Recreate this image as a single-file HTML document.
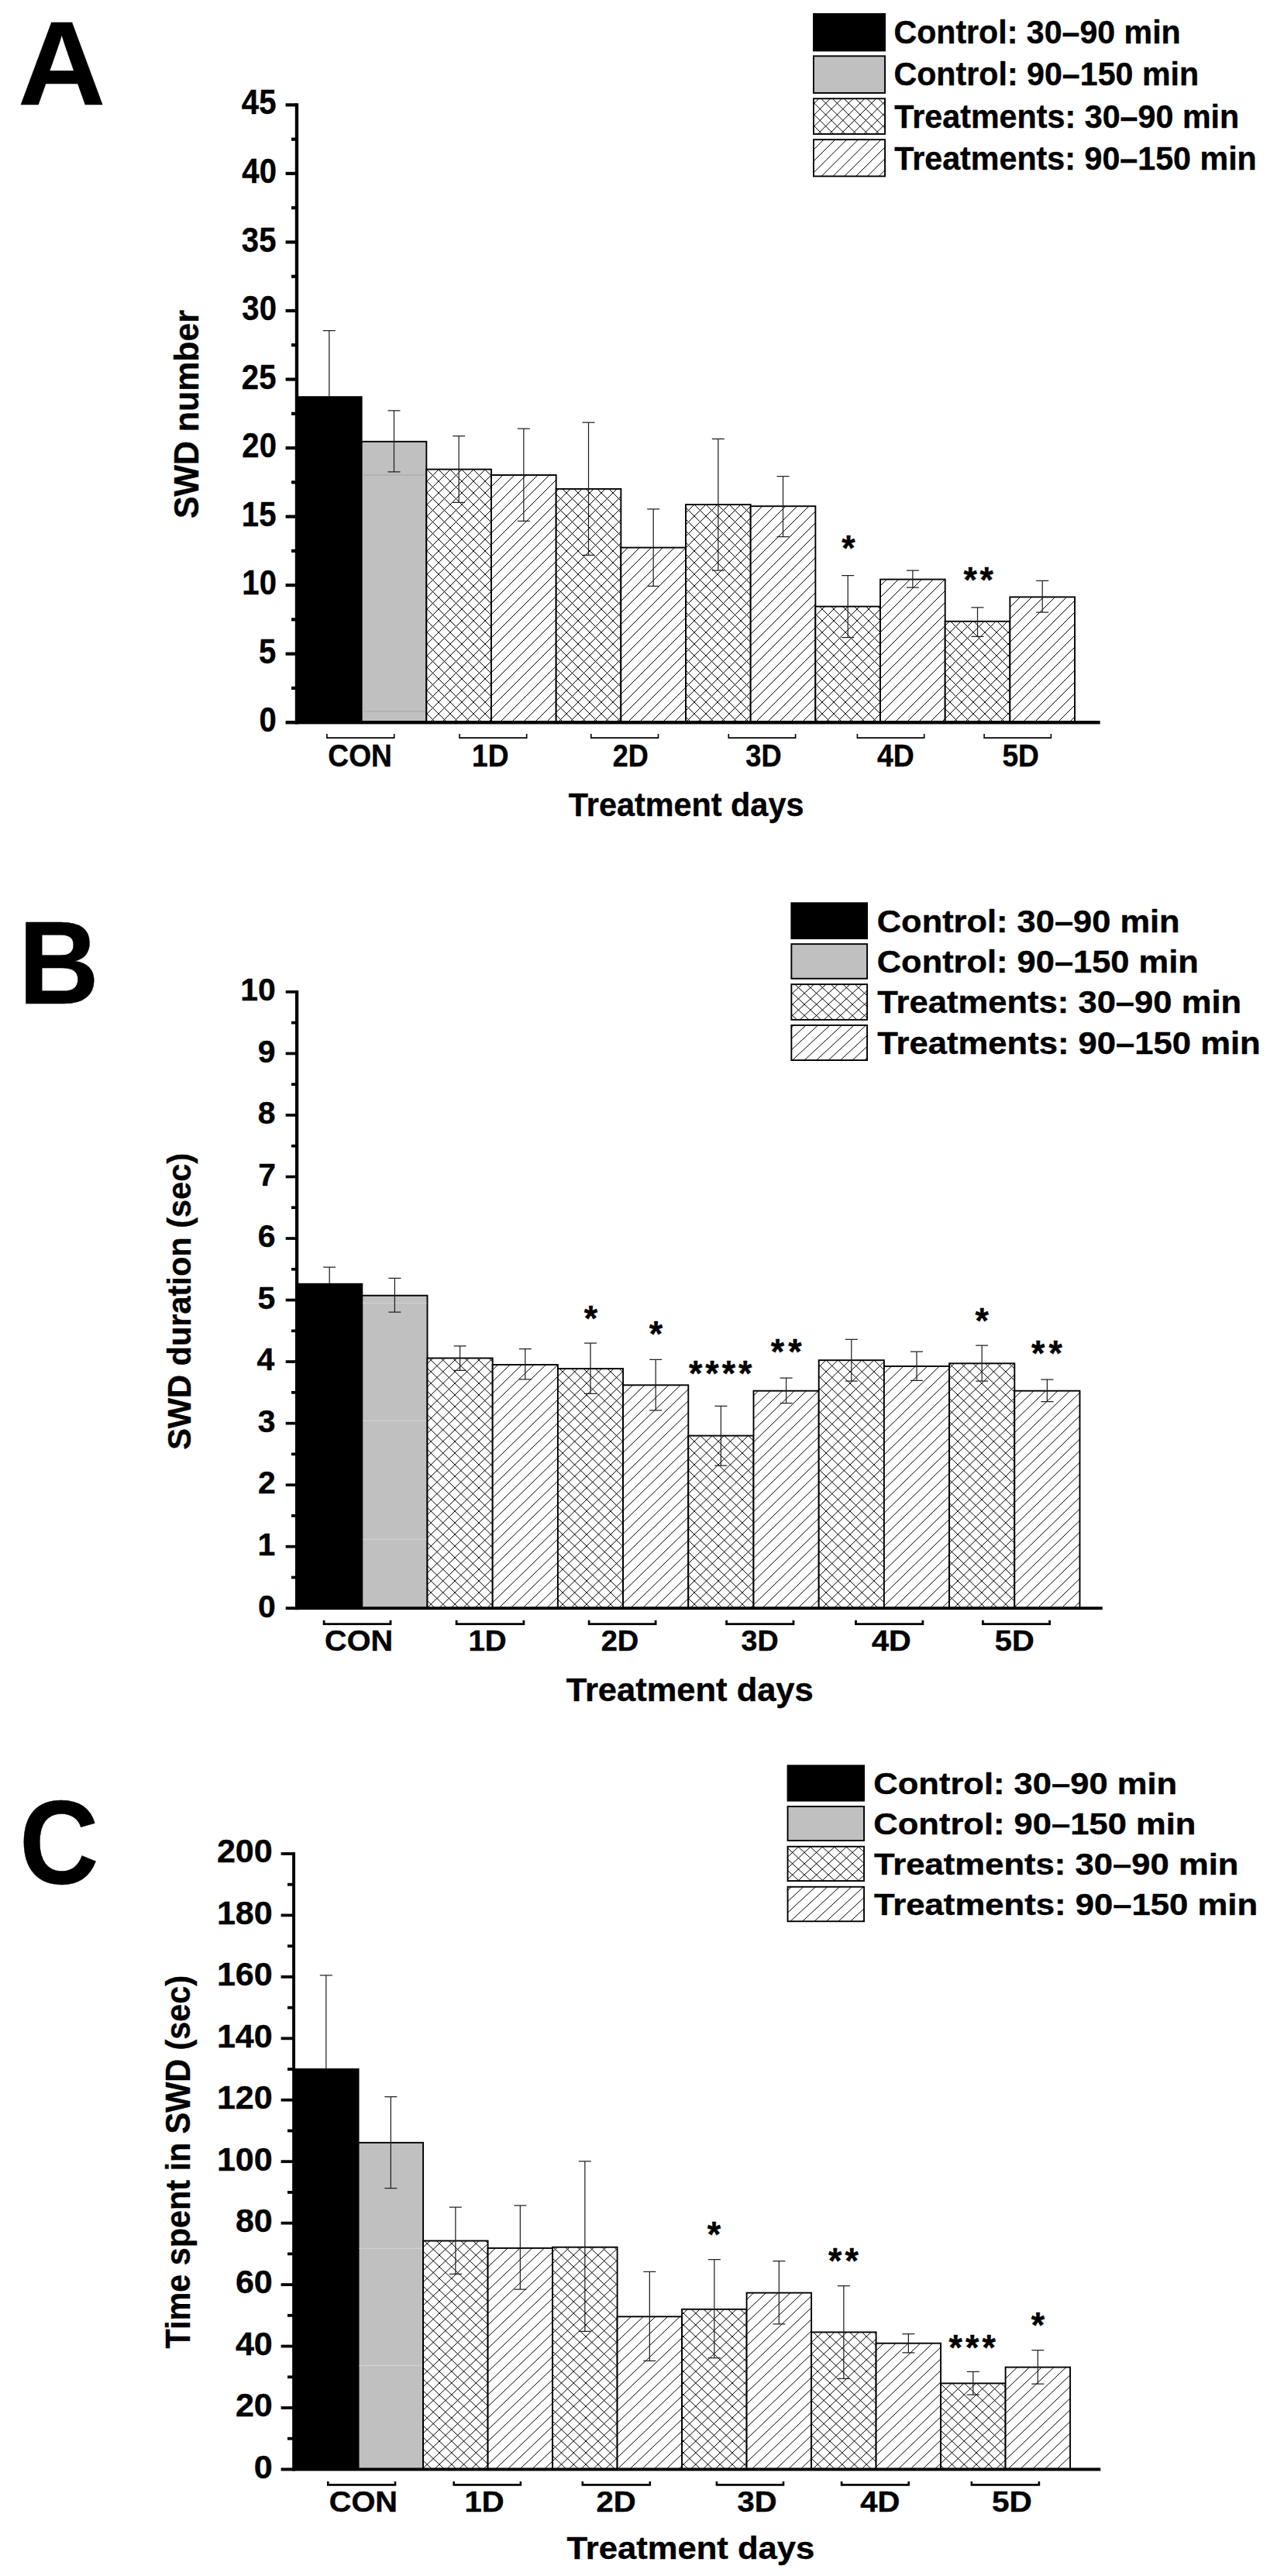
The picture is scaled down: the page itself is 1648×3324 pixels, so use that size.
<!DOCTYPE html>
<html lang="en"><head><meta charset="utf-8"><title>SWD figure</title>
<style>html,body{margin:0;padding:0;background:#fff;overflow:hidden}svg{display:block}text{font-family:"Liberation Sans",sans-serif;font-weight:bold;fill:#000;stroke:#000;stroke-width:0.4px;stroke-linejoin:round}</style>
</head><body>
<svg width="1648" height="3324" viewBox="0 0 1648 3324">
<rect width="1648" height="3324" fill="#fff"/>
<rect x="383" y="511.2" width="84.62" height="421" fill="#000"/>
<rect x="466.67" y="569.8" width="83.67" height="362.4" fill="#c0c0c0" stroke="#000" stroke-width="1.9"/>
<line x1="467.62" x2="549.39" y1="613" y2="613" stroke="#a4a4a4" stroke-width="1"/>
<line x1="467.62" x2="549.39" y1="918" y2="918" stroke="#a8a8a8" stroke-width="1"/>
<rect x="550.34" y="605.6" width="83.67" height="326.6" fill="#fff"/>
<clipPath id="c1"><rect x="550.34" y="605.6" width="83.67" height="326.6"/></clipPath>
<path clip-path="url(#c1)" d="M224.8 932.2L551.4 605.6M239.8 932.2L566.4 605.6M254.8 932.2L581.4 605.6M269.8 932.2L596.4 605.6M284.8 932.2L611.4 605.6M299.8 932.2L626.4 605.6M314.8 932.2L641.4 605.6M329.8 932.2L656.4 605.6M344.8 932.2L671.4 605.6M359.8 932.2L686.4 605.6M374.8 932.2L701.4 605.6M389.8 932.2L716.4 605.6M404.8 932.2L731.4 605.6M419.8 932.2L746.4 605.6M434.8 932.2L761.4 605.6M449.8 932.2L776.4 605.6M464.8 932.2L791.4 605.6M479.8 932.2L806.4 605.6M494.8 932.2L821.4 605.6M509.8 932.2L836.4 605.6M524.8 932.2L851.4 605.6M539.8 932.2L866.4 605.6M554.8 932.2L881.4 605.6M569.8 932.2L896.4 605.6M584.8 932.2L911.4 605.6M599.8 932.2L926.4 605.6M614.8 932.2L941.4 605.6M629.8 932.2L956.4 605.6M235.6 605.6L562.2 932.2M250.6 605.6L577.2 932.2M265.6 605.6L592.2 932.2M280.6 605.6L607.2 932.2M295.6 605.6L622.2 932.2M310.6 605.6L637.2 932.2M325.6 605.6L652.2 932.2M340.6 605.6L667.2 932.2M355.6 605.6L682.2 932.2M370.6 605.6L697.2 932.2M385.6 605.6L712.2 932.2M400.6 605.6L727.2 932.2M415.6 605.6L742.2 932.2M430.6 605.6L757.2 932.2M445.6 605.6L772.2 932.2M460.6 605.6L787.2 932.2M475.6 605.6L802.2 932.2M490.6 605.6L817.2 932.2M505.6 605.6L832.2 932.2M520.6 605.6L847.2 932.2M535.6 605.6L862.2 932.2M550.6 605.6L877.2 932.2M565.6 605.6L892.2 932.2M580.6 605.6L907.2 932.2M595.6 605.6L922.2 932.2M610.6 605.6L937.2 932.2M625.6 605.6L952.2 932.2" stroke="#000" stroke-width="1.0" fill="none"/>
<rect x="550.34" y="605.6" width="83.67" height="326.6" fill="none" stroke="#000" stroke-width="1.9"/>
<rect x="634.01" y="613" width="83.67" height="319.2" fill="#fff"/>
<clipPath id="c2"><rect x="634.01" y="613" width="83.67" height="319.2"/></clipPath>
<path clip-path="url(#c2)" d="M329.8 932.2L649 613M344.8 932.2L664 613M359.8 932.2L679 613M374.8 932.2L694 613M389.8 932.2L709 613M404.8 932.2L724 613M419.8 932.2L739 613M434.8 932.2L754 613M449.8 932.2L769 613M464.8 932.2L784 613M479.8 932.2L799 613M494.8 932.2L814 613M509.8 932.2L829 613M524.8 932.2L844 613M539.8 932.2L859 613M554.8 932.2L874 613M569.8 932.2L889 613M584.8 932.2L904 613M599.8 932.2L919 613M614.8 932.2L934 613M629.8 932.2L949 613M644.8 932.2L964 613M659.8 932.2L979 613M674.8 932.2L994 613M689.8 932.2L1009 613M704.8 932.2L1024 613" stroke="#000" stroke-width="1.0" fill="none"/>
<rect x="634.01" y="613" width="83.67" height="319.2" fill="none" stroke="#000" stroke-width="1.9"/>
<rect x="717.68" y="630.9" width="83.67" height="301.3" fill="#fff"/>
<clipPath id="c3"><rect x="717.68" y="630.9" width="83.67" height="301.3"/></clipPath>
<path clip-path="url(#c3)" d="M419.8 932.2L721.1 630.9M434.8 932.2L736.1 630.9M449.8 932.2L751.1 630.9M464.8 932.2L766.1 630.9M479.8 932.2L781.1 630.9M494.8 932.2L796.1 630.9M509.8 932.2L811.1 630.9M524.8 932.2L826.1 630.9M539.8 932.2L841.1 630.9M554.8 932.2L856.1 630.9M569.8 932.2L871.1 630.9M584.8 932.2L886.1 630.9M599.8 932.2L901.1 630.9M614.8 932.2L916.1 630.9M629.8 932.2L931.1 630.9M644.8 932.2L946.1 630.9M659.8 932.2L961.1 630.9M674.8 932.2L976.1 630.9M689.8 932.2L991.1 630.9M704.8 932.2L1006.1 630.9M719.8 932.2L1021.1 630.9M734.8 932.2L1036.1 630.9M749.8 932.2L1051.1 630.9M764.8 932.2L1066.1 630.9M779.8 932.2L1081.1 630.9M794.8 932.2L1096.1 630.9M425.9 630.9L727.2 932.2M440.9 630.9L742.2 932.2M455.9 630.9L757.2 932.2M470.9 630.9L772.2 932.2M485.9 630.9L787.2 932.2M500.9 630.9L802.2 932.2M515.9 630.9L817.2 932.2M530.9 630.9L832.2 932.2M545.9 630.9L847.2 932.2M560.9 630.9L862.2 932.2M575.9 630.9L877.2 932.2M590.9 630.9L892.2 932.2M605.9 630.9L907.2 932.2M620.9 630.9L922.2 932.2M635.9 630.9L937.2 932.2M650.9 630.9L952.2 932.2M665.9 630.9L967.2 932.2M680.9 630.9L982.2 932.2M695.9 630.9L997.2 932.2M710.9 630.9L1012.2 932.2M725.9 630.9L1027.2 932.2M740.9 630.9L1042.2 932.2M755.9 630.9L1057.2 932.2M770.9 630.9L1072.2 932.2M785.9 630.9L1087.2 932.2M800.9 630.9L1102.2 932.2" stroke="#000" stroke-width="1.0" fill="none"/>
<rect x="717.68" y="630.9" width="83.67" height="301.3" fill="none" stroke="#000" stroke-width="1.9"/>
<rect x="801.35" y="706.6" width="83.67" height="225.6" fill="#fff"/>
<clipPath id="c4"><rect x="801.35" y="706.6" width="83.67" height="225.6"/></clipPath>
<path clip-path="url(#c4)" d="M584.8 932.2L810.4 706.6M599.8 932.2L825.4 706.6M614.8 932.2L840.4 706.6M629.8 932.2L855.4 706.6M644.8 932.2L870.4 706.6M659.8 932.2L885.4 706.6M674.8 932.2L900.4 706.6M689.8 932.2L915.4 706.6M704.8 932.2L930.4 706.6M719.8 932.2L945.4 706.6M734.8 932.2L960.4 706.6M749.8 932.2L975.4 706.6M764.8 932.2L990.4 706.6M779.8 932.2L1005.4 706.6M794.8 932.2L1020.4 706.6M809.8 932.2L1035.4 706.6M824.8 932.2L1050.4 706.6M839.8 932.2L1065.4 706.6M854.8 932.2L1080.4 706.6M869.8 932.2L1095.4 706.6M884.8 932.2L1110.4 706.6" stroke="#000" stroke-width="1.0" fill="none"/>
<rect x="801.35" y="706.6" width="83.67" height="225.6" fill="none" stroke="#000" stroke-width="1.9"/>
<rect x="885.02" y="651.1" width="83.67" height="281.1" fill="#fff"/>
<clipPath id="c5"><rect x="885.02" y="651.1" width="83.67" height="281.1"/></clipPath>
<path clip-path="url(#c5)" d="M614.8 932.2L895.9 651.1M629.8 932.2L910.9 651.1M644.8 932.2L925.9 651.1M659.8 932.2L940.9 651.1M674.8 932.2L955.9 651.1M689.8 932.2L970.9 651.1M704.8 932.2L985.9 651.1M719.8 932.2L1000.9 651.1M734.8 932.2L1015.9 651.1M749.8 932.2L1030.9 651.1M764.8 932.2L1045.9 651.1M779.8 932.2L1060.9 651.1M794.8 932.2L1075.9 651.1M809.8 932.2L1090.9 651.1M824.8 932.2L1105.9 651.1M839.8 932.2L1120.9 651.1M854.8 932.2L1135.9 651.1M869.8 932.2L1150.9 651.1M884.8 932.2L1165.9 651.1M899.8 932.2L1180.9 651.1M914.8 932.2L1195.9 651.1M929.8 932.2L1210.9 651.1M944.8 932.2L1225.9 651.1M959.8 932.2L1240.9 651.1M611.1 651.1L892.2 932.2M626.1 651.1L907.2 932.2M641.1 651.1L922.2 932.2M656.1 651.1L937.2 932.2M671.1 651.1L952.2 932.2M686.1 651.1L967.2 932.2M701.1 651.1L982.2 932.2M716.1 651.1L997.2 932.2M731.1 651.1L1012.2 932.2M746.1 651.1L1027.2 932.2M761.1 651.1L1042.2 932.2M776.1 651.1L1057.2 932.2M791.1 651.1L1072.2 932.2M806.1 651.1L1087.2 932.2M821.1 651.1L1102.2 932.2M836.1 651.1L1117.2 932.2M851.1 651.1L1132.2 932.2M866.1 651.1L1147.2 932.2M881.1 651.1L1162.2 932.2M896.1 651.1L1177.2 932.2M911.1 651.1L1192.2 932.2M926.1 651.1L1207.2 932.2M941.1 651.1L1222.2 932.2M956.1 651.1L1237.2 932.2" stroke="#000" stroke-width="1.0" fill="none"/>
<rect x="885.02" y="651.1" width="83.67" height="281.1" fill="none" stroke="#000" stroke-width="1.9"/>
<rect x="968.69" y="653.2" width="83.67" height="279" fill="#fff"/>
<clipPath id="c6"><rect x="968.69" y="653.2" width="83.67" height="279"/></clipPath>
<path clip-path="url(#c6)" d="M689.8 932.2L968.8 653.2M704.8 932.2L983.8 653.2M719.8 932.2L998.8 653.2M734.8 932.2L1013.8 653.2M749.8 932.2L1028.8 653.2M764.8 932.2L1043.8 653.2M779.8 932.2L1058.8 653.2M794.8 932.2L1073.8 653.2M809.8 932.2L1088.8 653.2M824.8 932.2L1103.8 653.2M839.8 932.2L1118.8 653.2M854.8 932.2L1133.8 653.2M869.8 932.2L1148.8 653.2M884.8 932.2L1163.8 653.2M899.8 932.2L1178.8 653.2M914.8 932.2L1193.8 653.2M929.8 932.2L1208.8 653.2M944.8 932.2L1223.8 653.2M959.8 932.2L1238.8 653.2M974.8 932.2L1253.8 653.2M989.8 932.2L1268.8 653.2M1004.8 932.2L1283.8 653.2M1019.8 932.2L1298.8 653.2M1034.8 932.2L1313.8 653.2M1049.8 932.2L1328.8 653.2" stroke="#000" stroke-width="1.0" fill="none"/>
<rect x="968.69" y="653.2" width="83.67" height="279" fill="none" stroke="#000" stroke-width="1.9"/>
<rect x="1052.36" y="782.6" width="83.67" height="149.6" fill="#fff"/>
<clipPath id="c7"><rect x="1052.36" y="782.6" width="83.67" height="149.6"/></clipPath>
<path clip-path="url(#c7)" d="M914.8 932.2L1064.4 782.6M929.8 932.2L1079.4 782.6M944.8 932.2L1094.4 782.6M959.8 932.2L1109.4 782.6M974.8 932.2L1124.4 782.6M989.8 932.2L1139.4 782.6M1004.8 932.2L1154.4 782.6M1019.8 932.2L1169.4 782.6M1034.8 932.2L1184.4 782.6M1049.8 932.2L1199.4 782.6M1064.8 932.2L1214.4 782.6M1079.8 932.2L1229.4 782.6M1094.8 932.2L1244.4 782.6M1109.8 932.2L1259.4 782.6M1124.8 932.2L1274.4 782.6M907.6 782.6L1057.2 932.2M922.6 782.6L1072.2 932.2M937.6 782.6L1087.2 932.2M952.6 782.6L1102.2 932.2M967.6 782.6L1117.2 932.2M982.6 782.6L1132.2 932.2M997.6 782.6L1147.2 932.2M1012.6 782.6L1162.2 932.2M1027.6 782.6L1177.2 932.2M1042.6 782.6L1192.2 932.2M1057.6 782.6L1207.2 932.2M1072.6 782.6L1222.2 932.2M1087.6 782.6L1237.2 932.2M1102.6 782.6L1252.2 932.2M1117.6 782.6L1267.2 932.2M1132.6 782.6L1282.2 932.2" stroke="#000" stroke-width="1.0" fill="none"/>
<rect x="1052.36" y="782.6" width="83.67" height="149.6" fill="none" stroke="#000" stroke-width="1.9"/>
<rect x="1136.03" y="747.6" width="83.67" height="184.6" fill="#fff"/>
<clipPath id="c8"><rect x="1136.03" y="747.6" width="83.67" height="184.6"/></clipPath>
<path clip-path="url(#c8)" d="M959.8 932.2L1144.4 747.6M974.8 932.2L1159.4 747.6M989.8 932.2L1174.4 747.6M1004.8 932.2L1189.4 747.6M1019.8 932.2L1204.4 747.6M1034.8 932.2L1219.4 747.6M1049.8 932.2L1234.4 747.6M1064.8 932.2L1249.4 747.6M1079.8 932.2L1264.4 747.6M1094.8 932.2L1279.4 747.6M1109.8 932.2L1294.4 747.6M1124.8 932.2L1309.4 747.6M1139.8 932.2L1324.4 747.6M1154.8 932.2L1339.4 747.6M1169.8 932.2L1354.4 747.6M1184.8 932.2L1369.4 747.6M1199.8 932.2L1384.4 747.6M1214.8 932.2L1399.4 747.6" stroke="#000" stroke-width="1.0" fill="none"/>
<rect x="1136.03" y="747.6" width="83.67" height="184.6" fill="none" stroke="#000" stroke-width="1.9"/>
<rect x="1219.7" y="801.8" width="83.67" height="130.4" fill="#fff"/>
<clipPath id="c9"><rect x="1219.7" y="801.8" width="83.67" height="130.4"/></clipPath>
<path clip-path="url(#c9)" d="M1094.8 932.2L1225.2 801.8M1109.8 932.2L1240.2 801.8M1124.8 932.2L1255.2 801.8M1139.8 932.2L1270.2 801.8M1154.8 932.2L1285.2 801.8M1169.8 932.2L1300.2 801.8M1184.8 932.2L1315.2 801.8M1199.8 932.2L1330.2 801.8M1214.8 932.2L1345.2 801.8M1229.8 932.2L1360.2 801.8M1244.8 932.2L1375.2 801.8M1259.8 932.2L1390.2 801.8M1274.8 932.2L1405.2 801.8M1289.8 932.2L1420.2 801.8M1091.8 801.8L1222.2 932.2M1106.8 801.8L1237.2 932.2M1121.8 801.8L1252.2 932.2M1136.8 801.8L1267.2 932.2M1151.8 801.8L1282.2 932.2M1166.8 801.8L1297.2 932.2M1181.8 801.8L1312.2 932.2M1196.8 801.8L1327.2 932.2M1211.8 801.8L1342.2 932.2M1226.8 801.8L1357.2 932.2M1241.8 801.8L1372.2 932.2M1256.8 801.8L1387.2 932.2M1271.8 801.8L1402.2 932.2M1286.8 801.8L1417.2 932.2M1301.8 801.8L1432.2 932.2" stroke="#000" stroke-width="1.0" fill="none"/>
<rect x="1219.7" y="801.8" width="83.67" height="130.4" fill="none" stroke="#000" stroke-width="1.9"/>
<rect x="1303.37" y="770.4" width="83.67" height="161.8" fill="#fff"/>
<clipPath id="c10"><rect x="1303.37" y="770.4" width="83.67" height="161.8"/></clipPath>
<path clip-path="url(#c10)" d="M1154.8 932.2L1316.6 770.4M1169.8 932.2L1331.6 770.4M1184.8 932.2L1346.6 770.4M1199.8 932.2L1361.6 770.4M1214.8 932.2L1376.6 770.4M1229.8 932.2L1391.6 770.4M1244.8 932.2L1406.6 770.4M1259.8 932.2L1421.6 770.4M1274.8 932.2L1436.6 770.4M1289.8 932.2L1451.6 770.4M1304.8 932.2L1466.6 770.4M1319.8 932.2L1481.6 770.4M1334.8 932.2L1496.6 770.4M1349.8 932.2L1511.6 770.4M1364.8 932.2L1526.6 770.4M1379.8 932.2L1541.6 770.4" stroke="#000" stroke-width="1.0" fill="none"/>
<rect x="1303.37" y="770.4" width="83.67" height="161.8" fill="none" stroke="#000" stroke-width="1.9"/>
<path d="M424.83 426.5V511.2M416.83 426.5H432.83M508.5 529.9V608.9M500.5 529.9H516.5M500.5 608.9H516.5M592.17 562.5V648.4M584.17 562.5H600.17M584.17 648.4H600.17M675.85 553.1V672.4M667.85 553.1H683.85M667.85 672.4H683.85M759.51 545V716.4M751.51 545H767.51M751.51 716.4H767.51M843.18 656.9V756.3M835.18 656.9H851.18M835.18 756.3H851.18M926.86 566.4V736.2M918.86 566.4H934.86M918.86 736.2H934.86M1010.52 614.5V692.7M1002.52 614.5H1018.52M1002.52 692.7H1018.52M1094.2 742.7V822.5M1086.2 742.7H1102.2M1086.2 822.5H1102.2M1177.87 736.2V758.2M1169.87 736.2H1185.87M1169.87 758.2H1185.87M1261.53 783.9V821.3M1253.53 783.9H1269.53M1253.53 821.3H1269.53M1345.2 749.3V790M1337.2 749.3H1353.2M1337.2 790H1353.2" stroke="#222" stroke-width="1.25" fill="none"/>
<rect x="380.8" y="133.28" width="4.4" height="801.12" fill="#000"/>
<rect x="368.6" y="930" width="1051.1" height="4.4" fill="#000"/>
<text transform="translate(334.59,944.3) scale(0.9180,1)" font-size="43.6">0</text>
<rect x="376" y="885.83" width="7" height="4.2" fill="#000"/>
<rect x="368.6" y="841.57" width="14.4" height="4.2" fill="#000"/>
<text transform="translate(334.09,855.77) scale(0.9180,1)" font-size="43.6">5</text>
<rect x="376" y="797.3" width="7" height="4.2" fill="#000"/>
<rect x="368.6" y="753.03" width="14.4" height="4.2" fill="#000"/>
<text transform="translate(312.37,767.23) scale(0.9180,1)" font-size="43.6">10</text>
<rect x="376" y="708.76" width="7" height="4.2" fill="#000"/>
<rect x="368.6" y="664.5" width="14.4" height="4.2" fill="#000"/>
<text transform="translate(311.87,678.7) scale(0.9180,1)" font-size="43.6">15</text>
<rect x="376" y="620.23" width="7" height="4.2" fill="#000"/>
<rect x="368.6" y="575.96" width="14.4" height="4.2" fill="#000"/>
<text transform="translate(312.37,590.16) scale(0.9180,1)" font-size="43.6">20</text>
<rect x="376" y="531.69" width="7" height="4.2" fill="#000"/>
<rect x="368.6" y="487.43" width="14.4" height="4.2" fill="#000"/>
<text transform="translate(311.87,501.63) scale(0.9180,1)" font-size="43.6">25</text>
<rect x="376" y="443.16" width="7" height="4.2" fill="#000"/>
<rect x="368.6" y="398.89" width="14.4" height="4.2" fill="#000"/>
<text transform="translate(312.37,413.09) scale(0.9180,1)" font-size="43.6">30</text>
<rect x="376" y="354.62" width="7" height="4.2" fill="#000"/>
<rect x="368.6" y="310.36" width="14.4" height="4.2" fill="#000"/>
<text transform="translate(311.87,324.56) scale(0.9180,1)" font-size="43.6">35</text>
<rect x="376" y="266.09" width="7" height="4.2" fill="#000"/>
<rect x="368.6" y="221.82" width="14.4" height="4.2" fill="#000"/>
<text transform="translate(312.37,236.02) scale(0.9180,1)" font-size="43.6">40</text>
<rect x="376" y="177.55" width="7" height="4.2" fill="#000"/>
<rect x="368.6" y="133.28" width="14.4" height="4.2" fill="#000"/>
<text transform="translate(311.87,147.48) scale(0.9180,1)" font-size="43.6">45</text>
<path d="M421.9 947V952.1H508.7V947M593 947V952.1H679.7V947M762.8 947V952.1H849.5V947M940.3 947V952.1H1026.6V947M1106.4 947V952.1H1192.7V947M1270.1 947V952.1H1356.4V947" stroke="#000" stroke-width="1.6" fill="none" stroke-linejoin="miter"/>
<text transform="translate(423.31,988.5) scale(0.9222,1)" font-size="40.3">CON</text>
<text transform="translate(608.98,988.5) scale(0.9227,1)" font-size="40.3">1D</text>
<text transform="translate(790.84,988.5) scale(0.8933,1)" font-size="40.3">2D</text>
<text transform="translate(962.29,988.5) scale(0.8984,1)" font-size="40.3">3D</text>
<text transform="translate(1131.94,988.5) scale(0.9275,1)" font-size="40.3">4D</text>
<text transform="translate(1293.38,988.5) scale(0.9225,1)" font-size="40.3">5D</text>
<text transform="translate(1086.29,723.49) scale(0.9847,1)" font-size="45.37" x="0">*</text>
<text transform="translate(1243.49,764.19) scale(0.9847,1)" font-size="45.37" x="0 21.43">**</text>
<text transform="translate(733.79,1052.5) scale(0.9583,1)" font-size="43.2">Treatment days</text>
<text transform="translate(255.7,668.99) rotate(-90) scale(0.9523,1)" font-size="45">SWD number</text>
<text transform="translate(23.07,134.5) scale(1.0174,1)" font-size="154.33">A</text>
<rect x="1049" y="17" width="94" height="49.4" fill="#000"/>
<rect x="1049.95" y="72.35" width="92.1" height="47.6" fill="#c0c0c0" stroke="#000" stroke-width="1.9"/>
<clipPath id="c11"><rect x="1049.95" y="127.25" width="92.1" height="45.7"/></clipPath>
<path clip-path="url(#c11)" d="M1011.05 172.95L1056.75 127.25M1025.85 172.95L1071.55 127.25M1040.65 172.95L1086.35 127.25M1055.45 172.95L1101.15 127.25M1070.25 172.95L1115.95 127.25M1085.05 172.95L1130.75 127.25M1099.85 172.95L1145.55 127.25M1114.65 172.95L1160.35 127.25M1129.45 172.95L1175.15 127.25M1015.25 127.25L1060.95 172.95M1030.05 127.25L1075.75 172.95M1044.85 127.25L1090.55 172.95M1059.65 127.25L1105.35 172.95M1074.45 127.25L1120.15 172.95M1089.25 127.25L1134.95 172.95M1104.05 127.25L1149.75 172.95M1118.85 127.25L1164.55 172.95M1133.65 127.25L1179.35 172.95" stroke="#000" stroke-width="1.0" fill="none"/>
<rect x="1049.95" y="127.25" width="92.1" height="45.7" fill="none" stroke="#000" stroke-width="1.9"/>
<clipPath id="c12"><rect x="1049.95" y="180.15" width="92.1" height="47.3"/></clipPath>
<path clip-path="url(#c12)" d="M1015.75 227.45L1063.05 180.15M1030.55 227.45L1077.85 180.15M1045.35 227.45L1092.65 180.15M1060.15 227.45L1107.45 180.15M1074.95 227.45L1122.25 180.15M1089.75 227.45L1137.05 180.15M1104.55 227.45L1151.85 180.15M1119.35 227.45L1166.65 180.15M1134.15 227.45L1181.45 180.15" stroke="#000" stroke-width="1.0" fill="none"/>
<rect x="1049.95" y="180.15" width="92.1" height="47.3" fill="none" stroke="#000" stroke-width="1.9"/>
<text transform="translate(1153.45,55.7) scale(0.9724,1)" font-size="42.3">Control: 30–90 min</text>
<text transform="translate(1153.45,110.1) scale(0.9739,1)" font-size="42.3">Control: 90–150 min</text>
<text transform="translate(1154.29,164.5) scale(0.9759,1)" font-size="42.3">Treatments: 30–90 min</text>
<text transform="translate(1154.29,218.8) scale(0.9748,1)" font-size="42.3">Treatments: 90–150 min</text>
<rect x="383.1" y="1655.8" width="85.15" height="419.4" fill="#000"/>
<rect x="467.3" y="1671.7" width="84.2" height="403.5" fill="#c0c0c0" stroke="#000" stroke-width="1.9"/>
<line x1="468.25" x2="550.55" y1="1681.4" y2="1681.4" stroke="#d4d4d4" stroke-width="1"/>
<line x1="468.25" x2="550.55" y1="1833.3" y2="1833.3" stroke="#d4d4d4" stroke-width="1"/>
<line x1="468.25" x2="550.55" y1="1986.4" y2="1986.4" stroke="#d4d4d4" stroke-width="1"/>
<rect x="551.5" y="1752.5" width="84.2" height="322.7" fill="#fff"/>
<clipPath id="c13"><rect x="551.5" y="1752.5" width="84.2" height="322.7"/></clipPath>
<path clip-path="url(#c13)" d="M226.39 2075.2L558.78 1752.5M241.84 2075.2L574.23 1752.5M257.29 2075.2L589.67 1752.5M272.74 2075.2L605.12 1752.5M288.19 2075.2L620.57 1752.5M303.64 2075.2L636.02 1752.5M319.09 2075.2L651.47 1752.5M334.54 2075.2L666.92 1752.5M349.99 2075.2L682.37 1752.5M365.44 2075.2L697.82 1752.5M380.89 2075.2L713.27 1752.5M396.34 2075.2L728.72 1752.5M411.79 2075.2L744.17 1752.5M427.24 2075.2L759.62 1752.5M442.69 2075.2L775.07 1752.5M458.14 2075.2L790.52 1752.5M473.59 2075.2L805.97 1752.5M489.04 2075.2L821.42 1752.5M504.49 2075.2L836.87 1752.5M519.94 2075.2L852.32 1752.5M535.39 2075.2L867.77 1752.5M550.84 2075.2L883.22 1752.5M566.29 2075.2L898.67 1752.5M581.74 2075.2L914.12 1752.5M597.19 2075.2L929.57 1752.5M612.64 2075.2L945.02 1752.5M628.09 2075.2L960.47 1752.5M229.17 1752.5L561.56 2075.2M244.62 1752.5L577.01 2075.2M260.08 1752.5L592.46 2075.2M275.53 1752.5L607.91 2075.2M290.98 1752.5L623.36 2075.2M306.43 1752.5L638.81 2075.2M321.88 1752.5L654.26 2075.2M337.33 1752.5L669.71 2075.2M352.78 1752.5L685.16 2075.2M368.23 1752.5L700.61 2075.2M383.68 1752.5L716.06 2075.2M399.13 1752.5L731.51 2075.2M414.58 1752.5L746.96 2075.2M430.03 1752.5L762.41 2075.2M445.48 1752.5L777.86 2075.2M460.93 1752.5L793.31 2075.2M476.38 1752.5L808.76 2075.2M491.83 1752.5L824.21 2075.2M507.28 1752.5L839.66 2075.2M522.73 1752.5L855.11 2075.2M538.18 1752.5L870.56 2075.2M553.63 1752.5L886.01 2075.2M569.08 1752.5L901.46 2075.2M584.53 1752.5L916.91 2075.2M599.98 1752.5L932.36 2075.2M615.43 1752.5L947.81 2075.2M630.88 1752.5L963.26 2075.2" stroke="#000" stroke-width="1.0" fill="none"/>
<rect x="551.5" y="1752.5" width="84.2" height="322.7" fill="none" stroke="#000" stroke-width="1.9"/>
<rect x="635.7" y="1761" width="84.2" height="314.2" fill="#fff"/>
<clipPath id="c14"><rect x="635.7" y="1761" width="84.2" height="314.2"/></clipPath>
<path clip-path="url(#c14)" d="M319.09 2075.2L642.72 1761M334.54 2075.2L658.17 1761M349.99 2075.2L673.62 1761M365.44 2075.2L689.07 1761M380.89 2075.2L704.52 1761M396.34 2075.2L719.97 1761M411.79 2075.2L735.42 1761M427.24 2075.2L750.87 1761M442.69 2075.2L766.32 1761M458.14 2075.2L781.77 1761M473.59 2075.2L797.22 1761M489.04 2075.2L812.67 1761M504.49 2075.2L828.12 1761M519.94 2075.2L843.57 1761M535.39 2075.2L859.02 1761M550.84 2075.2L874.47 1761M566.29 2075.2L889.92 1761M581.74 2075.2L905.37 1761M597.19 2075.2L920.82 1761M612.64 2075.2L936.27 1761M628.09 2075.2L951.72 1761M643.54 2075.2L967.17 1761M658.99 2075.2L982.62 1761M674.44 2075.2L998.07 1761M689.89 2075.2L1013.52 1761M705.34 2075.2L1028.97 1761" stroke="#000" stroke-width="1.0" fill="none"/>
<rect x="635.7" y="1761" width="84.2" height="314.2" fill="none" stroke="#000" stroke-width="1.9"/>
<rect x="719.9" y="1766.1" width="84.2" height="309.1" fill="#fff"/>
<clipPath id="c15"><rect x="719.9" y="1766.1" width="84.2" height="309.1"/></clipPath>
<path clip-path="url(#c15)" d="M411.79 2075.2L730.17 1766.1M427.24 2075.2L745.62 1766.1M442.69 2075.2L761.07 1766.1M458.14 2075.2L776.52 1766.1M473.59 2075.2L791.97 1766.1M489.04 2075.2L807.42 1766.1M504.49 2075.2L822.87 1766.1M519.94 2075.2L838.32 1766.1M535.39 2075.2L853.77 1766.1M550.84 2075.2L869.22 1766.1M566.29 2075.2L884.67 1766.1M581.74 2075.2L900.12 1766.1M597.19 2075.2L915.57 1766.1M612.64 2075.2L931.02 1766.1M628.09 2075.2L946.47 1766.1M643.54 2075.2L961.92 1766.1M658.99 2075.2L977.37 1766.1M674.44 2075.2L992.82 1766.1M689.89 2075.2L1008.27 1766.1M705.34 2075.2L1023.72 1766.1M720.79 2075.2L1039.17 1766.1M736.24 2075.2L1054.62 1766.1M751.69 2075.2L1070.07 1766.1M767.14 2075.2L1085.52 1766.1M782.59 2075.2L1100.97 1766.1M798.04 2075.2L1116.42 1766.1M413.13 1766.1L731.51 2075.2M428.58 1766.1L746.96 2075.2M444.03 1766.1L762.41 2075.2M459.48 1766.1L777.86 2075.2M474.93 1766.1L793.31 2075.2M490.38 1766.1L808.76 2075.2M505.83 1766.1L824.21 2075.2M521.28 1766.1L839.66 2075.2M536.73 1766.1L855.11 2075.2M552.18 1766.1L870.56 2075.2M567.63 1766.1L886.01 2075.2M583.08 1766.1L901.46 2075.2M598.53 1766.1L916.91 2075.2M613.98 1766.1L932.36 2075.2M629.43 1766.1L947.81 2075.2M644.88 1766.1L963.26 2075.2M660.33 1766.1L978.71 2075.2M675.78 1766.1L994.16 2075.2M691.23 1766.1L1009.61 2075.2M706.68 1766.1L1025.06 2075.2M722.13 1766.1L1040.51 2075.2M737.58 1766.1L1055.96 2075.2M753.03 1766.1L1071.41 2075.2M768.48 1766.1L1086.86 2075.2M783.93 1766.1L1102.31 2075.2M799.38 1766.1L1117.76 2075.2" stroke="#000" stroke-width="1.0" fill="none"/>
<rect x="719.9" y="1766.1" width="84.2" height="309.1" fill="none" stroke="#000" stroke-width="1.9"/>
<rect x="804.1" y="1787.3" width="84.2" height="287.9" fill="#fff"/>
<clipPath id="c16"><rect x="804.1" y="1787.3" width="84.2" height="287.9"/></clipPath>
<path clip-path="url(#c16)" d="M519.94 2075.2L816.48 1787.3M535.39 2075.2L831.93 1787.3M550.84 2075.2L847.38 1787.3M566.29 2075.2L862.83 1787.3M581.74 2075.2L878.28 1787.3M597.19 2075.2L893.73 1787.3M612.64 2075.2L909.18 1787.3M628.09 2075.2L924.63 1787.3M643.54 2075.2L940.08 1787.3M658.99 2075.2L955.53 1787.3M674.44 2075.2L970.98 1787.3M689.89 2075.2L986.43 1787.3M705.34 2075.2L1001.88 1787.3M720.79 2075.2L1017.33 1787.3M736.24 2075.2L1032.78 1787.3M751.69 2075.2L1048.23 1787.3M767.14 2075.2L1063.68 1787.3M782.59 2075.2L1079.13 1787.3M798.04 2075.2L1094.58 1787.3M813.49 2075.2L1110.03 1787.3M828.94 2075.2L1125.48 1787.3M844.39 2075.2L1140.93 1787.3M859.84 2075.2L1156.38 1787.3M875.29 2075.2L1171.83 1787.3" stroke="#000" stroke-width="1.0" fill="none"/>
<rect x="804.1" y="1787.3" width="84.2" height="287.9" fill="none" stroke="#000" stroke-width="1.9"/>
<rect x="888.3" y="1852.6" width="84.2" height="222.6" fill="#fff"/>
<clipPath id="c17"><rect x="888.3" y="1852.6" width="84.2" height="222.6"/></clipPath>
<path clip-path="url(#c17)" d="M674.44 2075.2L903.72 1852.6M689.89 2075.2L919.17 1852.6M705.34 2075.2L934.62 1852.6M720.79 2075.2L950.07 1852.6M736.24 2075.2L965.52 1852.6M751.69 2075.2L980.97 1852.6M767.14 2075.2L996.42 1852.6M782.59 2075.2L1011.87 1852.6M798.04 2075.2L1027.32 1852.6M813.49 2075.2L1042.77 1852.6M828.94 2075.2L1058.22 1852.6M844.39 2075.2L1073.67 1852.6M859.84 2075.2L1089.12 1852.6M875.29 2075.2L1104.57 1852.6M890.74 2075.2L1120.02 1852.6M906.19 2075.2L1135.47 1852.6M921.64 2075.2L1150.92 1852.6M937.09 2075.2L1166.37 1852.6M952.54 2075.2L1181.82 1852.6M967.99 2075.2L1197.27 1852.6M672.18 1852.6L901.46 2075.2M687.63 1852.6L916.91 2075.2M703.08 1852.6L932.36 2075.2M718.53 1852.6L947.81 2075.2M733.98 1852.6L963.26 2075.2M749.43 1852.6L978.71 2075.2M764.88 1852.6L994.16 2075.2M780.33 1852.6L1009.61 2075.2M795.78 1852.6L1025.06 2075.2M811.23 1852.6L1040.51 2075.2M826.68 1852.6L1055.96 2075.2M842.13 1852.6L1071.41 2075.2M857.58 1852.6L1086.86 2075.2M873.03 1852.6L1102.31 2075.2M888.48 1852.6L1117.76 2075.2M903.93 1852.6L1133.21 2075.2M919.38 1852.6L1148.66 2075.2M934.83 1852.6L1164.11 2075.2M950.28 1852.6L1179.56 2075.2M965.73 1852.6L1195.01 2075.2" stroke="#000" stroke-width="1.0" fill="none"/>
<rect x="888.3" y="1852.6" width="84.2" height="222.6" fill="none" stroke="#000" stroke-width="1.9"/>
<rect x="972.5" y="1794.7" width="84.2" height="280.5" fill="#fff"/>
<clipPath id="c18"><rect x="972.5" y="1794.7" width="84.2" height="280.5"/></clipPath>
<path clip-path="url(#c18)" d="M689.89 2075.2L978.81 1794.7M705.34 2075.2L994.26 1794.7M720.79 2075.2L1009.71 1794.7M736.24 2075.2L1025.16 1794.7M751.69 2075.2L1040.61 1794.7M767.14 2075.2L1056.06 1794.7M782.59 2075.2L1071.51 1794.7M798.04 2075.2L1086.96 1794.7M813.49 2075.2L1102.41 1794.7M828.94 2075.2L1117.86 1794.7M844.39 2075.2L1133.31 1794.7M859.84 2075.2L1148.76 1794.7M875.29 2075.2L1164.21 1794.7M890.74 2075.2L1179.66 1794.7M906.19 2075.2L1195.11 1794.7M921.64 2075.2L1210.56 1794.7M937.09 2075.2L1226.01 1794.7M952.54 2075.2L1241.46 1794.7M967.99 2075.2L1256.91 1794.7M983.44 2075.2L1272.36 1794.7M998.89 2075.2L1287.81 1794.7M1014.34 2075.2L1303.26 1794.7M1029.79 2075.2L1318.71 1794.7M1045.24 2075.2L1334.16 1794.7" stroke="#000" stroke-width="1.0" fill="none"/>
<rect x="972.5" y="1794.7" width="84.2" height="280.5" fill="none" stroke="#000" stroke-width="1.9"/>
<rect x="1056.7" y="1755.2" width="84.2" height="320" fill="#fff"/>
<clipPath id="c19"><rect x="1056.7" y="1755.2" width="84.2" height="320"/></clipPath>
<path clip-path="url(#c19)" d="M736.24 2075.2L1065.84 1755.2M751.69 2075.2L1081.29 1755.2M767.14 2075.2L1096.74 1755.2M782.59 2075.2L1112.19 1755.2M798.04 2075.2L1127.64 1755.2M813.49 2075.2L1143.09 1755.2M828.94 2075.2L1158.54 1755.2M844.39 2075.2L1173.99 1755.2M859.84 2075.2L1189.44 1755.2M875.29 2075.2L1204.89 1755.2M890.74 2075.2L1220.34 1755.2M906.19 2075.2L1235.79 1755.2M921.64 2075.2L1251.24 1755.2M937.09 2075.2L1266.69 1755.2M952.54 2075.2L1282.14 1755.2M967.99 2075.2L1297.59 1755.2M983.44 2075.2L1313.04 1755.2M998.89 2075.2L1328.49 1755.2M1014.34 2075.2L1343.94 1755.2M1029.79 2075.2L1359.39 1755.2M1045.24 2075.2L1374.84 1755.2M1060.69 2075.2L1390.29 1755.2M1076.14 2075.2L1405.74 1755.2M1091.59 2075.2L1421.19 1755.2M1107.04 2075.2L1436.64 1755.2M1122.49 2075.2L1452.09 1755.2M1137.94 2075.2L1467.54 1755.2M741.81 1755.2L1071.41 2075.2M757.26 1755.2L1086.86 2075.2M772.71 1755.2L1102.31 2075.2M788.16 1755.2L1117.76 2075.2M803.61 1755.2L1133.21 2075.2M819.06 1755.2L1148.66 2075.2M834.51 1755.2L1164.11 2075.2M849.96 1755.2L1179.56 2075.2M865.41 1755.2L1195.01 2075.2M880.86 1755.2L1210.46 2075.2M896.31 1755.2L1225.91 2075.2M911.76 1755.2L1241.36 2075.2M927.21 1755.2L1256.81 2075.2M942.66 1755.2L1272.26 2075.2M958.11 1755.2L1287.71 2075.2M973.56 1755.2L1303.16 2075.2M989.01 1755.2L1318.61 2075.2M1004.46 1755.2L1334.06 2075.2M1019.91 1755.2L1349.51 2075.2M1035.36 1755.2L1364.96 2075.2M1050.81 1755.2L1380.41 2075.2M1066.26 1755.2L1395.86 2075.2M1081.71 1755.2L1411.31 2075.2M1097.16 1755.2L1426.76 2075.2M1112.61 1755.2L1442.21 2075.2M1128.06 1755.2L1457.66 2075.2" stroke="#000" stroke-width="1.0" fill="none"/>
<rect x="1056.7" y="1755.2" width="84.2" height="320" fill="none" stroke="#000" stroke-width="1.9"/>
<rect x="1140.9" y="1763" width="84.2" height="312.2" fill="#fff"/>
<clipPath id="c20"><rect x="1140.9" y="1763" width="84.2" height="312.2"/></clipPath>
<path clip-path="url(#c20)" d="M828.94 2075.2L1150.51 1763M844.39 2075.2L1165.96 1763M859.84 2075.2L1181.41 1763M875.29 2075.2L1196.86 1763M890.74 2075.2L1212.31 1763M906.19 2075.2L1227.76 1763M921.64 2075.2L1243.21 1763M937.09 2075.2L1258.66 1763M952.54 2075.2L1274.11 1763M967.99 2075.2L1289.56 1763M983.44 2075.2L1305.01 1763M998.89 2075.2L1320.46 1763M1014.34 2075.2L1335.91 1763M1029.79 2075.2L1351.36 1763M1045.24 2075.2L1366.81 1763M1060.69 2075.2L1382.26 1763M1076.14 2075.2L1397.71 1763M1091.59 2075.2L1413.16 1763M1107.04 2075.2L1428.61 1763M1122.49 2075.2L1444.06 1763M1137.94 2075.2L1459.51 1763M1153.39 2075.2L1474.96 1763M1168.84 2075.2L1490.41 1763M1184.29 2075.2L1505.86 1763M1199.74 2075.2L1521.31 1763M1215.19 2075.2L1536.76 1763" stroke="#000" stroke-width="1.0" fill="none"/>
<rect x="1140.9" y="1763" width="84.2" height="312.2" fill="none" stroke="#000" stroke-width="1.9"/>
<rect x="1225.1" y="1759.3" width="84.2" height="315.9" fill="#fff"/>
<clipPath id="c21"><rect x="1225.1" y="1759.3" width="84.2" height="315.9"/></clipPath>
<path clip-path="url(#c21)" d="M906.19 2075.2L1231.57 1759.3M921.64 2075.2L1247.02 1759.3M937.09 2075.2L1262.47 1759.3M952.54 2075.2L1277.92 1759.3M967.99 2075.2L1293.37 1759.3M983.44 2075.2L1308.82 1759.3M998.89 2075.2L1324.27 1759.3M1014.34 2075.2L1339.72 1759.3M1029.79 2075.2L1355.17 1759.3M1045.24 2075.2L1370.62 1759.3M1060.69 2075.2L1386.07 1759.3M1076.14 2075.2L1401.52 1759.3M1091.59 2075.2L1416.97 1759.3M1107.04 2075.2L1432.42 1759.3M1122.49 2075.2L1447.87 1759.3M1137.94 2075.2L1463.32 1759.3M1153.39 2075.2L1478.77 1759.3M1168.84 2075.2L1494.22 1759.3M1184.29 2075.2L1509.67 1759.3M1199.74 2075.2L1525.12 1759.3M1215.19 2075.2L1540.57 1759.3M1230.64 2075.2L1556.02 1759.3M1246.09 2075.2L1571.47 1759.3M1261.54 2075.2L1586.92 1759.3M1276.99 2075.2L1602.37 1759.3M1292.44 2075.2L1617.82 1759.3M1307.89 2075.2L1633.27 1759.3M900.53 1759.3L1225.91 2075.2M915.98 1759.3L1241.36 2075.2M931.43 1759.3L1256.81 2075.2M946.88 1759.3L1272.26 2075.2M962.33 1759.3L1287.71 2075.2M977.78 1759.3L1303.16 2075.2M993.23 1759.3L1318.61 2075.2M1008.68 1759.3L1334.06 2075.2M1024.13 1759.3L1349.51 2075.2M1039.58 1759.3L1364.96 2075.2M1055.03 1759.3L1380.41 2075.2M1070.48 1759.3L1395.86 2075.2M1085.93 1759.3L1411.31 2075.2M1101.38 1759.3L1426.76 2075.2M1116.83 1759.3L1442.21 2075.2M1132.28 1759.3L1457.66 2075.2M1147.73 1759.3L1473.11 2075.2M1163.18 1759.3L1488.56 2075.2M1178.63 1759.3L1504.01 2075.2M1194.08 1759.3L1519.46 2075.2M1209.53 1759.3L1534.91 2075.2M1224.98 1759.3L1550.36 2075.2M1240.43 1759.3L1565.81 2075.2M1255.88 1759.3L1581.26 2075.2M1271.33 1759.3L1596.71 2075.2M1286.78 1759.3L1612.16 2075.2M1302.23 1759.3L1627.61 2075.2" stroke="#000" stroke-width="1.0" fill="none"/>
<rect x="1225.1" y="1759.3" width="84.2" height="315.9" fill="none" stroke="#000" stroke-width="1.9"/>
<rect x="1309.3" y="1794.7" width="84.2" height="280.5" fill="#fff"/>
<clipPath id="c22"><rect x="1309.3" y="1794.7" width="84.2" height="280.5"/></clipPath>
<path clip-path="url(#c22)" d="M1029.79 2075.2L1318.71 1794.7M1045.24 2075.2L1334.16 1794.7M1060.69 2075.2L1349.61 1794.7M1076.14 2075.2L1365.06 1794.7M1091.59 2075.2L1380.51 1794.7M1107.04 2075.2L1395.96 1794.7M1122.49 2075.2L1411.41 1794.7M1137.94 2075.2L1426.86 1794.7M1153.39 2075.2L1442.31 1794.7M1168.84 2075.2L1457.76 1794.7M1184.29 2075.2L1473.21 1794.7M1199.74 2075.2L1488.66 1794.7M1215.19 2075.2L1504.11 1794.7M1230.64 2075.2L1519.56 1794.7M1246.09 2075.2L1535.01 1794.7M1261.54 2075.2L1550.46 1794.7M1276.99 2075.2L1565.91 1794.7M1292.44 2075.2L1581.36 1794.7M1307.89 2075.2L1596.81 1794.7M1323.34 2075.2L1612.26 1794.7M1338.79 2075.2L1627.71 1794.7M1354.24 2075.2L1643.16 1794.7M1369.69 2075.2L1658.61 1794.7M1385.14 2075.2L1674.06 1794.7" stroke="#000" stroke-width="1.0" fill="none"/>
<rect x="1309.3" y="1794.7" width="84.2" height="280.5" fill="none" stroke="#000" stroke-width="1.9"/>
<path d="M425.2 1635V1655.8M417.2 1635H433.2M509.4 1649.3V1693.2M501.4 1649.3H517.4M501.4 1693.2H517.4M593.6 1736.8V1768.3M585.6 1736.8H601.6M585.6 1768.3H601.6M677.8 1740.5V1779.9M669.8 1740.5H685.8M669.8 1779.9H685.8M762 1733.2V1798.3M754 1733.2H770M754 1798.3H770M846.2 1754.3V1819.9M838.2 1754.3H854.2M838.2 1819.9H854.2M930.4 1814.3V1891.2M922.4 1814.3H938.4M922.4 1891.2H938.4M1014.6 1778V1810.6M1006.6 1778H1022.6M1006.6 1810.6H1022.6M1098.8 1728.4V1782.1M1090.8 1728.4H1106.8M1090.8 1782.1H1106.8M1183 1744.2V1781.3M1175 1744.2H1191M1175 1781.3H1191M1267.2 1736.1V1782.1M1259.2 1736.1H1275.2M1259.2 1782.1H1275.2M1351.4 1780.1V1808.6M1343.4 1780.1H1359.4M1343.4 1808.6H1359.4" stroke="#222" stroke-width="1.25" fill="none"/>
<rect x="380.95" y="1278.05" width="4.3" height="799.1" fill="#000"/>
<rect x="368.7" y="2073.25" width="1054.1" height="3.9" fill="#000"/>
<text transform="translate(333.05,2086.5) scale(0.9850,1)" font-size="41.5">0</text>
<rect x="376" y="2033.58" width="7.1" height="3.7" fill="#000"/>
<rect x="368.7" y="1993.82" width="14.4" height="3.7" fill="#000"/>
<text transform="translate(332.54,2006.97) scale(0.9850,1)" font-size="41.5">1</text>
<rect x="376" y="1954.05" width="7.1" height="3.7" fill="#000"/>
<rect x="368.7" y="1914.29" width="14.4" height="3.7" fill="#000"/>
<text transform="translate(333.05,1927.44) scale(0.9850,1)" font-size="41.5">2</text>
<rect x="376" y="1874.52" width="7.1" height="3.7" fill="#000"/>
<rect x="368.7" y="1834.76" width="14.4" height="3.7" fill="#000"/>
<text transform="translate(332.84,1847.91) scale(0.9850,1)" font-size="41.5">3</text>
<rect x="376" y="1794.99" width="7.1" height="3.7" fill="#000"/>
<rect x="368.7" y="1755.23" width="14.4" height="3.7" fill="#000"/>
<text transform="translate(331.62,1768.38) scale(0.9850,1)" font-size="41.5">4</text>
<rect x="376" y="1715.46" width="7.1" height="3.7" fill="#000"/>
<rect x="368.7" y="1675.7" width="14.4" height="3.7" fill="#000"/>
<text transform="translate(332.54,1688.85) scale(0.9850,1)" font-size="41.5">5</text>
<rect x="376" y="1635.93" width="7.1" height="3.7" fill="#000"/>
<rect x="368.7" y="1596.17" width="14.4" height="3.7" fill="#000"/>
<text transform="translate(332.84,1609.32) scale(0.9850,1)" font-size="41.5">6</text>
<rect x="376" y="1556.4" width="7.1" height="3.7" fill="#000"/>
<rect x="368.7" y="1516.64" width="14.4" height="3.7" fill="#000"/>
<text transform="translate(333.15,1529.79) scale(0.9850,1)" font-size="41.5">7</text>
<rect x="376" y="1476.87" width="7.1" height="3.7" fill="#000"/>
<rect x="368.7" y="1437.11" width="14.4" height="3.7" fill="#000"/>
<text transform="translate(332.64,1450.26) scale(0.9850,1)" font-size="41.5">8</text>
<rect x="376" y="1397.34" width="7.1" height="3.7" fill="#000"/>
<rect x="368.7" y="1357.58" width="14.4" height="3.7" fill="#000"/>
<text transform="translate(332.84,1370.73) scale(0.9850,1)" font-size="41.5">9</text>
<rect x="376" y="1317.81" width="7.1" height="3.7" fill="#000"/>
<rect x="368.7" y="1278.05" width="14.4" height="3.7" fill="#000"/>
<text transform="translate(310.36,1291.2) scale(0.9850,1)" font-size="41.5">10</text>
<path d="M418.1 2090.8V2095.7H504V2090.8M589.1 2090.8V2095.7H675.9V2090.8M760.1 2090.8V2095.7H846.1V2090.8M937.6 2090.8V2095.7H1024V2090.8M1104.5 2090.8V2095.7H1190.9V2090.8M1268.4 2090.8V2095.7H1354.6V2090.8" stroke="#000" stroke-width="2.8" fill="none" stroke-linejoin="miter"/>
<text transform="translate(419.12,2130) scale(1.0696,1)" font-size="37">CON</text>
<text transform="translate(604.39,2130) scale(1.0419,1)" font-size="37">1D</text>
<text transform="translate(775.67,2130) scale(1.0270,1)" font-size="37">2D</text>
<text transform="translate(956.55,2130) scale(1.0164,1)" font-size="37">3D</text>
<text transform="translate(1124.9,2130) scale(1.0744,1)" font-size="37">4D</text>
<text transform="translate(1283.8,2130) scale(1.0766,1)" font-size="37">5D</text>
<text transform="translate(753.79,1716.69) scale(0.9847,1)" font-size="45.37" x="0">*</text>
<text transform="translate(837.69,1737.39) scale(0.9847,1)" font-size="45.37" x="0">*</text>
<text transform="translate(888.89,1787.79) scale(0.9847,1)" font-size="45.37" x="0 21.73 43.46 65.2">****</text>
<text transform="translate(994.69,1760.09) scale(0.9847,1)" font-size="45.37" x="0 23.05">**</text>
<text transform="translate(1258.49,1720.39) scale(0.9847,1)" font-size="45.37" x="0">*</text>
<text transform="translate(1331.09,1761.69) scale(0.9847,1)" font-size="45.37" x="0 22.65">**</text>
<text transform="translate(730.77,2195.3) scale(1.0403,1)" font-size="41.8">Treatment days</text>
<text transform="translate(246.2,1870.85) rotate(-90) scale(0.9658,1)" font-size="43">SWD duration (sec)</text>
<text transform="translate(23.86,1295.2) scale(0.9428,1)" font-size="153.02">B</text>
<rect x="1020.4" y="1164.3" width="99.6" height="47.7" fill="#000"/>
<rect x="1021.35" y="1218.15" width="97.7" height="44.6" fill="#c0c0c0" stroke="#000" stroke-width="1.9"/>
<clipPath id="c23"><rect x="1021.35" y="1270.15" width="97.7" height="45.7"/></clipPath>
<path clip-path="url(#c23)" d="M985.78 1315.85L1034.95 1270.15M1001.27 1315.85L1050.44 1270.15M1016.77 1315.85L1065.94 1270.15M1032.26 1315.85L1081.43 1270.15M1047.76 1315.85L1096.93 1270.15M1063.25 1315.85L1112.42 1270.15M1078.74 1315.85L1127.92 1270.15M1094.24 1315.85L1143.41 1270.15M1109.73 1315.85L1158.91 1270.15M979.32 1270.15L1028.49 1315.85M994.82 1270.15L1043.99 1315.85M1010.31 1270.15L1059.48 1315.85M1025.8 1270.15L1074.98 1315.85M1041.3 1270.15L1090.47 1315.85M1056.79 1270.15L1105.97 1315.85M1072.29 1270.15L1121.46 1315.85M1087.78 1270.15L1136.96 1315.85M1103.28 1270.15L1152.45 1315.85M1118.77 1270.15L1167.94 1315.85" stroke="#000" stroke-width="1.0" fill="none"/>
<rect x="1021.35" y="1270.15" width="97.7" height="45.7" fill="none" stroke="#000" stroke-width="1.9"/>
<clipPath id="c24"><rect x="1021.35" y="1322.95" width="97.7" height="45.1"/></clipPath>
<path clip-path="url(#c24)" d="M976.09 1368.05L1024.62 1322.95M991.59 1368.05L1040.12 1322.95M1007.08 1368.05L1055.61 1322.95M1022.58 1368.05L1071.1 1322.95M1038.07 1368.05L1086.6 1322.95M1053.57 1368.05L1102.09 1322.95M1069.06 1368.05L1117.59 1322.95M1084.55 1368.05L1133.08 1322.95M1100.05 1368.05L1148.58 1322.95M1115.54 1368.05L1164.07 1322.95" stroke="#000" stroke-width="1.0" fill="none"/>
<rect x="1021.35" y="1322.95" width="97.7" height="45.1" fill="none" stroke="#000" stroke-width="1.9"/>
<text transform="translate(1131.76,1202.7) scale(1.0914,1)" font-size="39.8">Control: 30–90 min</text>
<text transform="translate(1131.76,1255) scale(1.0914,1)" font-size="39.8">Control: 90–150 min</text>
<text transform="translate(1132.36,1307.4) scale(1.0949,1)" font-size="39.8">Treatments: 30–90 min</text>
<text transform="translate(1132.36,1359.8) scale(1.0956,1)" font-size="39.8">Treatments: 90–150 min</text>
<rect x="379.1" y="2669" width="84.45" height="517.4" fill="#000"/>
<rect x="462.6" y="2764.8" width="83.5" height="421.6" fill="#c0c0c0" stroke="#000" stroke-width="1.9"/>
<line x1="463.55" x2="545.15" y1="2901.3" y2="2901.3" stroke="#d4d4d4" stroke-width="1"/>
<line x1="463.55" x2="545.15" y1="3052.4" y2="3052.4" stroke="#d4d4d4" stroke-width="1"/>
<rect x="546.1" y="2891.5" width="83.5" height="294.9" fill="#fff"/>
<clipPath id="c25"><rect x="546.1" y="2891.5" width="83.5" height="294.9"/></clipPath>
<path clip-path="url(#c25)" d="M245.28 3186.4L554.92 2891.5M261.03 3186.4L570.67 2891.5M276.78 3186.4L586.42 2891.5M292.53 3186.4L602.17 2891.5M308.28 3186.4L617.92 2891.5M324.03 3186.4L633.67 2891.5M339.78 3186.4L649.42 2891.5M355.53 3186.4L665.17 2891.5M371.28 3186.4L680.92 2891.5M387.03 3186.4L696.67 2891.5M402.78 3186.4L712.42 2891.5M418.53 3186.4L728.17 2891.5M434.28 3186.4L743.92 2891.5M450.03 3186.4L759.67 2891.5M465.78 3186.4L775.42 2891.5M481.53 3186.4L791.17 2891.5M497.28 3186.4L806.92 2891.5M513.03 3186.4L822.67 2891.5M528.78 3186.4L838.42 2891.5M544.53 3186.4L854.17 2891.5M560.28 3186.4L869.92 2891.5M576.03 3186.4L885.67 2891.5M591.78 3186.4L901.42 2891.5M607.53 3186.4L917.17 2891.5M623.28 3186.4L932.92 2891.5M248.33 2891.5L557.97 3186.4M264.08 2891.5L573.72 3186.4M279.83 2891.5L589.47 3186.4M295.58 2891.5L605.22 3186.4M311.33 2891.5L620.97 3186.4M327.08 2891.5L636.72 3186.4M342.83 2891.5L652.47 3186.4M358.58 2891.5L668.22 3186.4M374.33 2891.5L683.97 3186.4M390.08 2891.5L699.72 3186.4M405.83 2891.5L715.47 3186.4M421.58 2891.5L731.22 3186.4M437.33 2891.5L746.97 3186.4M453.08 2891.5L762.72 3186.4M468.83 2891.5L778.47 3186.4M484.58 2891.5L794.22 3186.4M500.33 2891.5L809.97 3186.4M516.08 2891.5L825.72 3186.4M531.83 2891.5L841.47 3186.4M547.58 2891.5L857.22 3186.4M563.33 2891.5L872.97 3186.4M579.08 2891.5L888.72 3186.4M594.83 2891.5L904.47 3186.4M610.58 2891.5L920.22 3186.4M626.33 2891.5L935.97 3186.4" stroke="#000" stroke-width="1.0" fill="none"/>
<rect x="546.1" y="2891.5" width="83.5" height="294.9" fill="none" stroke="#000" stroke-width="1.9"/>
<rect x="629.6" y="2900.9" width="83.5" height="285.5" fill="#fff"/>
<clipPath id="c26"><rect x="629.6" y="2900.9" width="83.5" height="285.5"/></clipPath>
<path clip-path="url(#c26)" d="M339.78 3186.4L639.55 2900.9M355.53 3186.4L655.3 2900.9M371.28 3186.4L671.05 2900.9M387.03 3186.4L686.8 2900.9M402.78 3186.4L702.55 2900.9M418.53 3186.4L718.3 2900.9M434.28 3186.4L734.05 2900.9M450.03 3186.4L749.8 2900.9M465.78 3186.4L765.55 2900.9M481.53 3186.4L781.3 2900.9M497.28 3186.4L797.05 2900.9M513.03 3186.4L812.8 2900.9M528.78 3186.4L828.55 2900.9M544.53 3186.4L844.3 2900.9M560.28 3186.4L860.05 2900.9M576.03 3186.4L875.8 2900.9M591.78 3186.4L891.55 2900.9M607.53 3186.4L907.3 2900.9M623.28 3186.4L923.05 2900.9M639.03 3186.4L938.8 2900.9M654.78 3186.4L954.55 2900.9M670.53 3186.4L970.3 2900.9M686.28 3186.4L986.05 2900.9M702.03 3186.4L1001.8 2900.9" stroke="#000" stroke-width="1.0" fill="none"/>
<rect x="629.6" y="2900.9" width="83.5" height="285.5" fill="none" stroke="#000" stroke-width="1.9"/>
<rect x="713.1" y="2899.7" width="83.5" height="286.7" fill="#fff"/>
<clipPath id="c27"><rect x="713.1" y="2899.7" width="83.5" height="286.7"/></clipPath>
<path clip-path="url(#c27)" d="M418.53 3186.4L719.57 2899.7M434.28 3186.4L735.32 2899.7M450.03 3186.4L751.07 2899.7M465.78 3186.4L766.82 2899.7M481.53 3186.4L782.57 2899.7M497.28 3186.4L798.32 2899.7M513.03 3186.4L814.07 2899.7M528.78 3186.4L829.82 2899.7M544.53 3186.4L845.57 2899.7M560.28 3186.4L861.32 2899.7M576.03 3186.4L877.07 2899.7M591.78 3186.4L892.82 2899.7M607.53 3186.4L908.57 2899.7M623.28 3186.4L924.32 2899.7M639.03 3186.4L940.07 2899.7M654.78 3186.4L955.82 2899.7M670.53 3186.4L971.57 2899.7M686.28 3186.4L987.32 2899.7M702.03 3186.4L1003.07 2899.7M717.78 3186.4L1018.82 2899.7M733.53 3186.4L1034.57 2899.7M749.28 3186.4L1050.32 2899.7M765.03 3186.4L1066.07 2899.7M780.78 3186.4L1081.82 2899.7M796.53 3186.4L1097.57 2899.7M414.43 2899.7L715.47 3186.4M430.18 2899.7L731.22 3186.4M445.93 2899.7L746.97 3186.4M461.68 2899.7L762.72 3186.4M477.43 2899.7L778.47 3186.4M493.18 2899.7L794.22 3186.4M508.93 2899.7L809.97 3186.4M524.68 2899.7L825.72 3186.4M540.43 2899.7L841.47 3186.4M556.18 2899.7L857.22 3186.4M571.93 2899.7L872.97 3186.4M587.68 2899.7L888.72 3186.4M603.43 2899.7L904.47 3186.4M619.18 2899.7L920.22 3186.4M634.93 2899.7L935.97 3186.4M650.68 2899.7L951.72 3186.4M666.43 2899.7L967.47 3186.4M682.18 2899.7L983.22 3186.4M697.93 2899.7L998.97 3186.4M713.68 2899.7L1014.72 3186.4M729.43 2899.7L1030.47 3186.4M745.18 2899.7L1046.22 3186.4M760.93 2899.7L1061.97 3186.4M776.68 2899.7L1077.72 3186.4M792.43 2899.7L1093.47 3186.4" stroke="#000" stroke-width="1.0" fill="none"/>
<rect x="713.1" y="2899.7" width="83.5" height="286.7" fill="none" stroke="#000" stroke-width="1.9"/>
<rect x="796.6" y="2989.3" width="83.5" height="197.1" fill="#fff"/>
<clipPath id="c28"><rect x="796.6" y="2989.3" width="83.5" height="197.1"/></clipPath>
<path clip-path="url(#c28)" d="M591.78 3186.4L798.73 2989.3M607.53 3186.4L814.48 2989.3M623.28 3186.4L830.23 2989.3M639.03 3186.4L845.98 2989.3M654.78 3186.4L861.73 2989.3M670.53 3186.4L877.48 2989.3M686.28 3186.4L893.23 2989.3M702.03 3186.4L908.98 2989.3M717.78 3186.4L924.73 2989.3M733.53 3186.4L940.48 2989.3M749.28 3186.4L956.23 2989.3M765.03 3186.4L971.98 2989.3M780.78 3186.4L987.73 2989.3M796.53 3186.4L1003.48 2989.3M812.28 3186.4L1019.23 2989.3M828.03 3186.4L1034.98 2989.3M843.78 3186.4L1050.73 2989.3M859.53 3186.4L1066.48 2989.3M875.28 3186.4L1082.23 2989.3" stroke="#000" stroke-width="1.0" fill="none"/>
<rect x="796.6" y="2989.3" width="83.5" height="197.1" fill="none" stroke="#000" stroke-width="1.9"/>
<rect x="880.1" y="2979.8" width="83.5" height="206.6" fill="#fff"/>
<clipPath id="c29"><rect x="880.1" y="2979.8" width="83.5" height="206.6"/></clipPath>
<path clip-path="url(#c29)" d="M670.53 3186.4L887.46 2979.8M686.28 3186.4L903.21 2979.8M702.03 3186.4L918.96 2979.8M717.78 3186.4L934.71 2979.8M733.53 3186.4L950.46 2979.8M749.28 3186.4L966.21 2979.8M765.03 3186.4L981.96 2979.8M780.78 3186.4L997.71 2979.8M796.53 3186.4L1013.46 2979.8M812.28 3186.4L1029.21 2979.8M828.03 3186.4L1044.96 2979.8M843.78 3186.4L1060.71 2979.8M859.53 3186.4L1076.46 2979.8M875.28 3186.4L1092.21 2979.8M891.03 3186.4L1107.96 2979.8M906.78 3186.4L1123.71 2979.8M922.53 3186.4L1139.46 2979.8M938.28 3186.4L1155.21 2979.8M954.03 3186.4L1170.96 2979.8M671.79 2979.8L888.72 3186.4M687.54 2979.8L904.47 3186.4M703.29 2979.8L920.22 3186.4M719.04 2979.8L935.97 3186.4M734.79 2979.8L951.72 3186.4M750.54 2979.8L967.47 3186.4M766.29 2979.8L983.22 3186.4M782.04 2979.8L998.97 3186.4M797.79 2979.8L1014.72 3186.4M813.54 2979.8L1030.47 3186.4M829.29 2979.8L1046.22 3186.4M845.04 2979.8L1061.97 3186.4M860.79 2979.8L1077.72 3186.4M876.54 2979.8L1093.47 3186.4M892.29 2979.8L1109.22 3186.4M908.04 2979.8L1124.97 3186.4M923.79 2979.8L1140.72 3186.4M939.54 2979.8L1156.47 3186.4M955.29 2979.8L1172.22 3186.4" stroke="#000" stroke-width="1.0" fill="none"/>
<rect x="880.1" y="2979.8" width="83.5" height="206.6" fill="none" stroke="#000" stroke-width="1.9"/>
<rect x="963.6" y="2958.6" width="83.5" height="227.8" fill="#fff"/>
<clipPath id="c30"><rect x="963.6" y="2958.6" width="83.5" height="227.8"/></clipPath>
<path clip-path="url(#c30)" d="M733.53 3186.4L972.72 2958.6M749.28 3186.4L988.47 2958.6M765.03 3186.4L1004.22 2958.6M780.78 3186.4L1019.97 2958.6M796.53 3186.4L1035.72 2958.6M812.28 3186.4L1051.47 2958.6M828.03 3186.4L1067.22 2958.6M843.78 3186.4L1082.97 2958.6M859.53 3186.4L1098.72 2958.6M875.28 3186.4L1114.47 2958.6M891.03 3186.4L1130.22 2958.6M906.78 3186.4L1145.97 2958.6M922.53 3186.4L1161.72 2958.6M938.28 3186.4L1177.47 2958.6M954.03 3186.4L1193.22 2958.6M969.78 3186.4L1208.97 2958.6M985.53 3186.4L1224.72 2958.6M1001.28 3186.4L1240.47 2958.6M1017.03 3186.4L1256.22 2958.6M1032.78 3186.4L1271.97 2958.6" stroke="#000" stroke-width="1.0" fill="none"/>
<rect x="963.6" y="2958.6" width="83.5" height="227.8" fill="none" stroke="#000" stroke-width="1.9"/>
<rect x="1047.1" y="3009.4" width="83.5" height="177" fill="#fff"/>
<clipPath id="c31"><rect x="1047.1" y="3009.4" width="83.5" height="177"/></clipPath>
<path clip-path="url(#c31)" d="M875.28 3186.4L1061.13 3009.4M891.03 3186.4L1076.88 3009.4M906.78 3186.4L1092.63 3009.4M922.53 3186.4L1108.38 3009.4M938.28 3186.4L1124.13 3009.4M954.03 3186.4L1139.88 3009.4M969.78 3186.4L1155.63 3009.4M985.53 3186.4L1171.38 3009.4M1001.28 3186.4L1187.13 3009.4M1017.03 3186.4L1202.88 3009.4M1032.78 3186.4L1218.63 3009.4M1048.53 3186.4L1234.38 3009.4M1064.28 3186.4L1250.13 3009.4M1080.03 3186.4L1265.88 3009.4M1095.78 3186.4L1281.63 3009.4M1111.53 3186.4L1297.38 3009.4M1127.28 3186.4L1313.13 3009.4M876.12 3009.4L1061.97 3186.4M891.87 3009.4L1077.72 3186.4M907.62 3009.4L1093.47 3186.4M923.37 3009.4L1109.22 3186.4M939.12 3009.4L1124.97 3186.4M954.87 3009.4L1140.72 3186.4M970.62 3009.4L1156.47 3186.4M986.37 3009.4L1172.22 3186.4M1002.12 3009.4L1187.97 3186.4M1017.87 3009.4L1203.72 3186.4M1033.62 3009.4L1219.47 3186.4M1049.37 3009.4L1235.22 3186.4M1065.12 3009.4L1250.97 3186.4M1080.87 3009.4L1266.72 3186.4M1096.62 3009.4L1282.47 3186.4M1112.37 3009.4L1298.22 3186.4M1128.12 3009.4L1313.97 3186.4" stroke="#000" stroke-width="1.0" fill="none"/>
<rect x="1047.1" y="3009.4" width="83.5" height="177" fill="none" stroke="#000" stroke-width="1.9"/>
<rect x="1130.6" y="3023.7" width="83.5" height="162.7" fill="#fff"/>
<clipPath id="c32"><rect x="1130.6" y="3023.7" width="83.5" height="162.7"/></clipPath>
<path clip-path="url(#c32)" d="M969.78 3186.4L1140.62 3023.7M985.53 3186.4L1156.37 3023.7M1001.28 3186.4L1172.12 3023.7M1017.03 3186.4L1187.87 3023.7M1032.78 3186.4L1203.62 3023.7M1048.53 3186.4L1219.37 3023.7M1064.28 3186.4L1235.12 3023.7M1080.03 3186.4L1250.87 3023.7M1095.78 3186.4L1266.62 3023.7M1111.53 3186.4L1282.37 3023.7M1127.28 3186.4L1298.12 3023.7M1143.03 3186.4L1313.87 3023.7M1158.78 3186.4L1329.62 3023.7M1174.53 3186.4L1345.37 3023.7M1190.28 3186.4L1361.12 3023.7M1206.03 3186.4L1376.87 3023.7" stroke="#000" stroke-width="1.0" fill="none"/>
<rect x="1130.6" y="3023.7" width="83.5" height="162.7" fill="none" stroke="#000" stroke-width="1.9"/>
<rect x="1214.1" y="3075.4" width="83.5" height="111" fill="#fff"/>
<clipPath id="c33"><rect x="1214.1" y="3075.4" width="83.5" height="111"/></clipPath>
<path clip-path="url(#c33)" d="M1111.53 3186.4L1228.08 3075.4M1127.28 3186.4L1243.83 3075.4M1143.03 3186.4L1259.58 3075.4M1158.78 3186.4L1275.33 3075.4M1174.53 3186.4L1291.08 3075.4M1190.28 3186.4L1306.83 3075.4M1206.03 3186.4L1322.58 3075.4M1221.78 3186.4L1338.33 3075.4M1237.53 3186.4L1354.08 3075.4M1253.28 3186.4L1369.83 3075.4M1269.03 3186.4L1385.58 3075.4M1284.78 3186.4L1401.33 3075.4M1102.92 3075.4L1219.47 3186.4M1118.67 3075.4L1235.22 3186.4M1134.42 3075.4L1250.97 3186.4M1150.17 3075.4L1266.72 3186.4M1165.92 3075.4L1282.47 3186.4M1181.67 3075.4L1298.22 3186.4M1197.42 3075.4L1313.97 3186.4M1213.17 3075.4L1329.72 3186.4M1228.92 3075.4L1345.47 3186.4M1244.67 3075.4L1361.22 3186.4M1260.42 3075.4L1376.97 3186.4M1276.17 3075.4L1392.72 3186.4M1291.92 3075.4L1408.47 3186.4" stroke="#000" stroke-width="1.0" fill="none"/>
<rect x="1214.1" y="3075.4" width="83.5" height="111" fill="none" stroke="#000" stroke-width="1.9"/>
<rect x="1297.6" y="3054.6" width="83.5" height="131.8" fill="#fff"/>
<clipPath id="c34"><rect x="1297.6" y="3054.6" width="83.5" height="131.8"/></clipPath>
<path clip-path="url(#c34)" d="M1174.53 3186.4L1312.92 3054.6M1190.28 3186.4L1328.67 3054.6M1206.03 3186.4L1344.42 3054.6M1221.78 3186.4L1360.17 3054.6M1237.53 3186.4L1375.92 3054.6M1253.28 3186.4L1391.67 3054.6M1269.03 3186.4L1407.42 3054.6M1284.78 3186.4L1423.17 3054.6M1300.53 3186.4L1438.92 3054.6M1316.28 3186.4L1454.67 3054.6M1332.03 3186.4L1470.42 3054.6M1347.78 3186.4L1486.17 3054.6M1363.53 3186.4L1501.92 3054.6M1379.28 3186.4L1517.67 3054.6" stroke="#000" stroke-width="1.0" fill="none"/>
<rect x="1297.6" y="3054.6" width="83.5" height="131.8" fill="none" stroke="#000" stroke-width="1.9"/>
<path d="M420.85 2548.9V2669M412.85 2548.9H428.85M504.35 2705.7V2823.6M496.35 2705.7H512.35M496.35 2823.6H512.35M587.85 2848V2934.3M579.85 2848H595.85M579.85 2934.3H595.85M671.35 2845.9V2954.2M663.35 2845.9H679.35M663.35 2954.2H679.35M754.85 2788.8V3008.4M746.85 2788.8H762.85M746.85 3008.4H762.85M838.35 2931.4V3046.3M830.35 2931.4H846.35M830.35 3046.3H846.35M921.85 2915.7V3042.5M913.85 2915.7H929.85M913.85 3042.5H929.85M1005.35 2917.7V2998.8M997.35 2917.7H1013.35M997.35 2998.8H1013.35M1088.85 2949.6V3069.3M1080.85 2949.6H1096.85M1080.85 3069.3H1096.85M1172.35 3011.5V3035.9M1164.35 3011.5H1180.35M1164.35 3035.9H1180.35M1255.85 3060.3V3090.1M1247.85 3060.3H1263.85M1247.85 3090.1H1263.85M1339.35 3032.7V3076.2M1331.35 3032.7H1347.35M1331.35 3076.2H1347.35" stroke="#222" stroke-width="1.25" fill="none"/>
<rect x="377.15" y="2390.1" width="3.9" height="798.3" fill="#000"/>
<rect x="362.6" y="3184.4" width="1057.7" height="4" fill="#000"/>
<text transform="translate(327.81,3197.8) scale(0.9950,1)" font-size="43.3">0</text>
<rect x="371" y="3144.78" width="8.1" height="3.8" fill="#000"/>
<rect x="362.6" y="3105.06" width="16.5" height="3.8" fill="#000"/>
<text transform="translate(303.9,3118.36) scale(0.9950,1)" font-size="43.3">20</text>
<rect x="371" y="3065.34" width="8.1" height="3.8" fill="#000"/>
<rect x="362.6" y="3025.62" width="16.5" height="3.8" fill="#000"/>
<text transform="translate(303.9,3038.92) scale(0.9950,1)" font-size="43.3">40</text>
<rect x="371" y="2985.9" width="8.1" height="3.8" fill="#000"/>
<rect x="362.6" y="2946.18" width="16.5" height="3.8" fill="#000"/>
<text transform="translate(303.9,2959.48) scale(0.9950,1)" font-size="43.3">60</text>
<rect x="371" y="2906.46" width="8.1" height="3.8" fill="#000"/>
<rect x="362.6" y="2866.74" width="16.5" height="3.8" fill="#000"/>
<text transform="translate(303.9,2880.04) scale(0.9950,1)" font-size="43.3">80</text>
<rect x="371" y="2827.02" width="8.1" height="3.8" fill="#000"/>
<rect x="362.6" y="2787.3" width="16.5" height="3.8" fill="#000"/>
<text transform="translate(279.88,2800.6) scale(0.9950,1)" font-size="43.3">100</text>
<rect x="371" y="2747.58" width="8.1" height="3.8" fill="#000"/>
<rect x="362.6" y="2707.86" width="16.5" height="3.8" fill="#000"/>
<text transform="translate(279.88,2721.16) scale(0.9950,1)" font-size="43.3">120</text>
<rect x="371" y="2668.14" width="8.1" height="3.8" fill="#000"/>
<rect x="362.6" y="2628.42" width="16.5" height="3.8" fill="#000"/>
<text transform="translate(279.88,2641.72) scale(0.9950,1)" font-size="43.3">140</text>
<rect x="371" y="2588.7" width="8.1" height="3.8" fill="#000"/>
<rect x="362.6" y="2548.98" width="16.5" height="3.8" fill="#000"/>
<text transform="translate(279.88,2562.28) scale(0.9950,1)" font-size="43.3">160</text>
<rect x="371" y="2509.26" width="8.1" height="3.8" fill="#000"/>
<rect x="362.6" y="2469.54" width="16.5" height="3.8" fill="#000"/>
<text transform="translate(279.88,2482.84) scale(0.9950,1)" font-size="43.3">180</text>
<rect x="371" y="2429.82" width="8.1" height="3.8" fill="#000"/>
<rect x="362.6" y="2390.1" width="16.5" height="3.8" fill="#000"/>
<text transform="translate(279.88,2403.4) scale(0.9950,1)" font-size="43.3">200</text>
<path d="M423.3 3202V3206.4H510V3202M585.7 3202V3206.4H671.9V3202M751.8 3202V3206.4H838.8V3202M924.9 3202V3206.4H1011V3202M1086.1 3202V3206.4H1172.7V3202M1253.9 3202V3206.4H1340.9V3202" stroke="#000" stroke-width="2.6" fill="none" stroke-linejoin="miter"/>
<text transform="translate(424.71,3241) scale(1.0747,1)" font-size="37">CON</text>
<text transform="translate(599.4,3241) scale(1.0811,1)" font-size="37">1D</text>
<text transform="translate(769.5,3241) scale(1.0833,1)" font-size="37">2D</text>
<text transform="translate(951.6,3241) scale(1.0789,1)" font-size="37">3D</text>
<text transform="translate(1110.3,3241) scale(1.0811,1)" font-size="37">4D</text>
<text transform="translate(1279.88,3241) scale(1.0968,1)" font-size="37">5D</text>
<text transform="translate(912.79,2898.99) scale(0.9847,1)" font-size="45.37" x="0">*</text>
<text transform="translate(1068.89,2932.99) scale(0.9847,1)" font-size="45.37" x="0 21.83">**</text>
<text transform="translate(1224.39,3044.69) scale(0.9847,1)" font-size="45.37" x="0 21.88 43.77">***</text>
<text transform="translate(1330.64,3016.19) scale(0.9847,1)" font-size="45.37" x="0">*</text>
<text transform="translate(731.56,3302.4) scale(1.0738,1)" font-size="40.6">Treatment days</text>
<text transform="translate(244.5,3030.51) rotate(-90) scale(0.9505,1)" font-size="43.5">Time spent in SWD (sec)</text>
<text transform="translate(25.12,2430.87) scale(0.9267,1)" font-size="153.22">C</text>
<rect x="1015.6" y="2277.3" width="100.4" height="47.3" fill="#000"/>
<rect x="1016.55" y="2331.05" width="98.5" height="44" fill="#c0c0c0" stroke="#000" stroke-width="1.9"/>
<clipPath id="c35"><rect x="1016.55" y="2382.75" width="98.5" height="44.3"/></clipPath>
<path clip-path="url(#c35)" d="M983.19 2427.05L1030.86 2382.75M998.69 2427.05L1046.36 2382.75M1014.18 2427.05L1061.85 2382.75M1029.68 2427.05L1077.35 2382.75M1045.17 2427.05L1092.84 2382.75M1060.67 2427.05L1108.33 2382.75M1076.16 2427.05L1123.83 2382.75M1091.66 2427.05L1139.32 2382.75M1107.15 2427.05L1154.82 2382.75M983.41 2382.75L1031.08 2427.05M998.9 2382.75L1046.57 2427.05M1014.4 2382.75L1062.07 2427.05M1029.89 2382.75L1077.56 2427.05M1045.39 2382.75L1093.05 2427.05M1060.88 2382.75L1108.55 2427.05M1076.38 2382.75L1124.04 2427.05M1091.87 2382.75L1139.54 2427.05M1107.37 2382.75L1155.03 2427.05" stroke="#000" stroke-width="1.0" fill="none"/>
<rect x="1016.55" y="2382.75" width="98.5" height="44.3" fill="none" stroke="#000" stroke-width="1.9"/>
<clipPath id="c36"><rect x="1016.55" y="2434.75" width="98.5" height="44.5"/></clipPath>
<path clip-path="url(#c36)" d="M973.51 2479.25L1021.39 2434.75M989.01 2479.25L1036.89 2434.75M1004.5 2479.25L1052.38 2434.75M1019.99 2479.25L1067.88 2434.75M1035.49 2479.25L1083.37 2434.75M1050.98 2479.25L1098.87 2434.75M1066.48 2479.25L1114.36 2434.75M1081.97 2479.25L1129.85 2434.75M1097.47 2479.25L1145.35 2434.75M1112.96 2479.25L1160.84 2434.75" stroke="#000" stroke-width="1.0" fill="none"/>
<rect x="1016.55" y="2434.75" width="98.5" height="44.5" fill="none" stroke="#000" stroke-width="1.9"/>
<text transform="translate(1127.26,2315.3) scale(1.0970,1)" font-size="39.7">Control: 30–90 min</text>
<text transform="translate(1127.26,2367.2) scale(1.0968,1)" font-size="39.7">Control: 90–150 min</text>
<text transform="translate(1128.06,2419.3) scale(1.0993,1)" font-size="39.7">Treatments: 30–90 min</text>
<text transform="translate(1128.06,2471.2) scale(1.0999,1)" font-size="39.7">Treatments: 90–150 min</text>
</svg>
</body></html>
